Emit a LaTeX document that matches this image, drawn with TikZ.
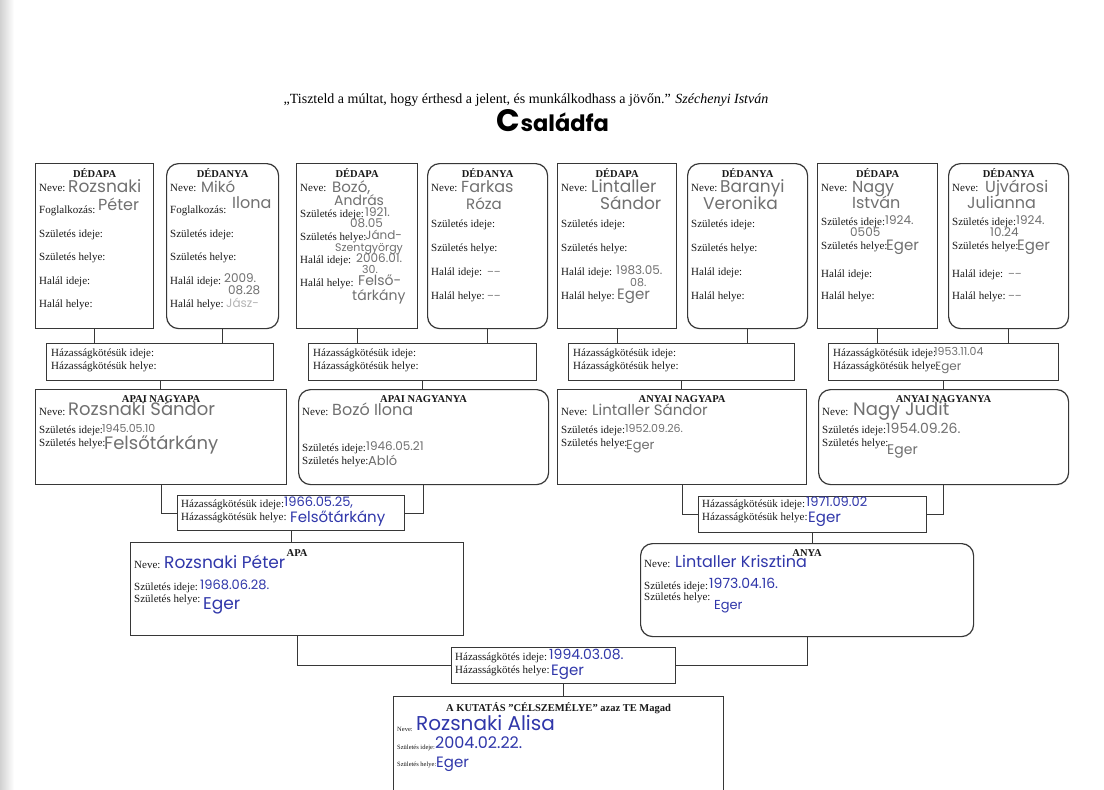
\documentclass[tikz,border=0pt]{standalone}
\usepackage{fontspec}
\setmainfont{Liberation Serif}
\newfontfamily\hwfamily{Poppins}
\newfontfamily\titlefamily{Poppins}
\definecolor{pencil}{RGB}{112,112,112}
\definecolor{faint}{RGB}{180,180,180}
\definecolor{ink}{RGB}{48,55,170}
\definecolor{frame}{RGB}{55,55,55}
\newcommand\lblfont{\fontsize{11}{11}\selectfont}
\newcommand\hdfont{\bfseries\fontsize{10.5}{11}\selectfont}
\tikzset{
  box/.style={draw=frame, line width=1.2pt, inner sep=0pt, anchor=north west},
  sq/.style={box},
  rd/.style={box, rounded corners=12pt},
  conn/.style={draw=frame, line width=1.2pt},
  lab/.style={font=\lblfont, anchor=west, inner sep=0pt, text=black!90, text height=0.7em, text depth=0.2em},
  tlab/.style={lab, font=\fontsize{6.5}{7}\selectfont},
  hd/.style={font=\hdfont, inner sep=0pt, text=black!90, text height=0.7em, text depth=0.1em},
  hw/.style={font=\hwfamily\fontsize{#1}{#1}\selectfont, anchor=west, inner sep=0pt,
             text=pencil, text height=0.7em, text depth=0.12em},
  hw/.default=16,
  hb/.style={hw=#1, text=ink},
  hb/.default=16,
}
\begin{document}
\begin{tikzpicture}[x=1pt,y=-1pt]
\useasboundingbox (0,0) rectangle (1104,790);
\fill[white] (0,0) rectangle (1104,790);
\clip (0,0) rectangle (1104,790);
\shade[left color=black!18, right color=white] (0,0) rectangle (14,790);

% quote and title
\node[font=\fontsize{14}{14}\selectfont, inner sep=0pt] (quote) at (526,100)
  {„Tiszteld a múltat, hogy érthesd a jelent, és munkálkodhass a jövőn.” \textit{Széchenyi István}};
\node[font=\titlefamily\bfseries\fontsize{22.5}{22.5}\selectfont, inner sep=0pt] (title) at (553,121)
  {{\fontsize{31}{31}\selectfont C}saládfa};

% great-grandparents
\node[sq, minimum width=118, minimum height=165] (g1) at (35,163) {};
\node[rd, minimum width=112, minimum height=165] (g2) at (166,163) {};
\node[sq, minimum width=121, minimum height=165] (g3) at (296,163) {};
\node[rd, minimum width=120, minimum height=165] (g4) at (427,163) {};
\node[sq, minimum width=119, minimum height=165] (g5) at (557,163) {};
\node[rd, minimum width=120, minimum height=165] (g6) at (687,163) {};
\node[sq, minimum width=120, minimum height=165] (g7) at (817,163) {};
\node[rd, minimum width=120, minimum height=165] (g8) at (948,163) {};

% first marriages
\node[sq, minimum width=227, minimum height=37] (m1) at (46,343) {};
\node[sq, minimum width=228, minimum height=37] (m2) at (308,343) {};
\node[sq, minimum width=226, minimum height=37] (m3) at (568,343) {};
\node[sq, minimum width=230, minimum height=37] (m4) at (828,343) {};

% grandparents
\node[sq, minimum width=251, minimum height=95] (p1) at (35,389) {};
\node[rd, minimum width=250, minimum height=95] (p2) at (298,389) {};
\node[sq, minimum width=249, minimum height=95] (p3) at (557,389) {};
\node[rd, minimum width=250, minimum height=95] (p4) at (818,389) {};

% parents' marriages and parents
\node[sq, minimum width=227, minimum height=35] (mp) at (177,495) {};
\node[sq, minimum width=228, minimum height=36] (mm) at (698,496) {};
\node[sq, minimum width=333, minimum height=93] (apa) at (130,542) {};
\node[rd, minimum width=333, minimum height=93] (anya) at (640,543) {};
\node[sq, minimum width=224, minimum height=36] (mf) at (451,647) {};
\node[sq, minimum width=330, minimum height=140] (me) at (393,696) {};

% connectors
\foreach \g/\m in {g1/m1,g2/m1,g3/m2,g4/m2,g5/m3,g6/m3,g7/m4,g8/m4}
  \draw[conn] (\g.south) -- (\g.south |- \m.north);
\foreach \m/\p in {m1/p1,m2/p2,m3/p3,m4/p4}
  \draw[conn] (\m.south) -- (\m.south |- \p.north);
\draw[conn] (p1.south) |- (mp.west);
\draw[conn] (p2.south) |- (mp.east);
\draw[conn] (p3.south) |- (mm.west);
\draw[conn] (p4.south) |- (mm.east);
\draw[conn] (mp.south) -- (mp.south |- apa.north);
\draw[conn] (mm.south) -- (mm.south |- anya.north);
\draw[conn] (apa.south) |- (mf.west);
\draw[conn] (anya.south) |- (mf.east);
\draw[conn] (mf.south) -- (mf.south |- me.north);

% headings top row
\foreach \g/\t in {g1/DÉDAPA,g2/DÉDANYA,g3/DÉDAPA,g4/DÉDANYA,g5/DÉDAPA,g6/DÉDANYA,g7/DÉDAPA,g8/DÉDANYA}
  \node[hd] at (\g.north |- 0,174) {\t};

% labels top row
\foreach \x in {39,170}{
  \node[lab] at (\x,189) {Neve:};
  \node[lab] at (\x,211) {Foglalkozás:};
  \node[lab] at (\x,235) {Születés ideje:};
  \node[lab] at (\x,258) {Születés helye:};
  \node[lab] at (\x,282) {Halál ideje:};
  \node[lab] at (\x,305) {Halál helye:};
}
\node[lab] at (300,189) {Neve:};
\node[lab] at (300,215) {Születés ideje:};
\node[lab] at (300,238) {Születés helye:};
\node[lab] at (300,261) {Halál ideje:};
\node[lab] at (300,284) {Halál helye:};
\foreach \x in {431,561,691}{
  \node[lab] at (\x,189) {Neve:};
  \node[lab] at (\x,225) {Születés ideje:};
  \node[lab] at (\x,249) {Születés helye:};
  \node[lab] at (\x,273) {Halál ideje:};
  \node[lab] at (\x,297) {Halál helye:};
}
\foreach \x in {821,952}{
  \node[lab] at (\x,189) {Neve:};
  \node[lab] at (\x,223) {Születés ideje:};
  \node[lab] at (\x,247) {Születés helye:};
  \node[lab] at (\x,275) {Halál ideje:};
  \node[lab] at (\x,297) {Halál helye:};
}

% handwriting top row
\node[hw=17] at (68,190) {Rozsnaki};
\node[hw=16] at (98,208) {Péter};
\node[hw=15] at (201,190) {Mikó};
\node[hw=16] at (232,206) {Ilona};
\node[hw=12] at (224,280) {2009.};
\node[hw=12] at (228,292) {08.28};
\node[hw=12, text=faint] at (226,305) {Jász-};
\node[hw=15] at (332,190) {Bozó,};
\node[hw=14] at (334,203) {András};
\node[hw=12] at (365,214) {1921.};
\node[hw=12] at (350,225) {08.05};
\node[hw=12] at (365,237) {Jánd-};
\node[hw=11] at (335,249) {Szentgyörgy};
\node[hw=12] at (356,260) {2006.01.};
\node[hw=11] at (362,271) {30.};
\node[hw=14] at (358,283) {Felső-};
\node[hw=14] at (352,298) {tárkány};
\node[hw=16] at (461,190) {Farkas};
\node[hw=15] at (466,207) {Róza};
\node[hw=10] at (487,273) {––};
\node[hw=10] at (487,297) {––};
\node[hw=17] at (591,190) {Lintaller};
\node[hw=17] at (600,207) {Sándor};
\node[hw=12] at (616,272) {1983.05.};
\node[hw=11] at (630,284) {08.};
\node[hw=15] at (617,297) {Eger};
\node[hw=17] at (720,190) {Baranyi};
\node[hw=17] at (703,207) {Veronika};
\node[hw=16] at (852,190) {Nagy};
\node[hw=16] at (852,206) {István};
\node[hw=12] at (885,222) {1924.};
\node[hw=12] at (850,234) {0505};
\node[hw=15] at (886,248) {Eger};
\node[hw=16] at (985,190) {Ujvárosi};
\node[hw=16] at (967,206) {Julianna};
\node[hw=12] at (1016,222) {1924.};
\node[hw=12] at (990,234) {10.24};
\node[hw=15] at (1017,248) {Eger};
\node[hw=10] at (1008,275) {––};
\node[hw=10] at (1008,297) {––};

% first marriage labels
\foreach \m in {m1,m2,m3,m4}{
  \node[lab] at ([xshift=5]\m.west |- 0,354) {Házasságkötésük ideje:};
  \node[lab] at ([xshift=5]\m.west |- 0,367) {Házasságkötésük helye:};
}
\node[hw=11] at (934,353) {1953.11.04};
\node[hw=12] at (935,368) {Eger};

% grandparents
\node[hd] at (p1.north |- 0,399) {APAI NAGYAPA};
\node[hd] at (p2.north |- 0,399) {APAI NAGYANYA};
\node[hd] at (p3.north |- 0,399) {ANYAI NAGYAPA};
\node[hd] at (p4.north |- 0,399) {ANYAI NAGYANYA};
\foreach \x in {39,561,822}{
  \node[lab] at (\x,413) {Neve:};
  \node[lab] at (\x,431) {Születés ideje:};
  \node[lab] at (\x,444) {Születés helye:};
}
\node[lab] at (302,413) {Neve:};
\node[lab] at (302,449) {Születés ideje:};
\node[lab] at (302,462) {Születés helye:};
\node[hw=18] at (68,413) {Rozsnaki Sándor};
\node[hw=11] at (102,430) {1945.05.10};
\node[hw=18] at (104,447) {Felsőtárkány};
\node[hw=16] at (332,413) {Bozó Ilona};
\node[hw=12] at (366,448) {1946.05.21};
\node[hw=13] at (368,463) {Abló};
\node[hw=15] at (592,413) {Lintaller Sándor};
\node[hw=11] at (625,430) {1952.09.26.};
\node[hw=13] at (626,447) {Eger};
\node[hw=18] at (853,413) {Nagy Judit};
\node[hw=14] at (886,431) {1954.09.26.};
\node[hw=14] at (887,452) {Eger};

% parents' marriages
\foreach \m in {mp,mm}{
  \node[lab] at ([xshift=4]\m.west |- 0,505) {Házasságkötésük ideje:};
  \node[lab] at ([xshift=4]\m.west |- 0,518) {Házasságkötésük helye:};
}
\node[hb=13] at (284,504) {1966.05.25,};
\node[hb=15] at (290,520) {Felsőtárkány};
\node[hb=13] at (806,504) {1971.09.02};
\node[hb=15] at (808,520) {Eger};

% parents
\node[hd] at (apa.north |- 0,553) {APA};
\node[hd] at (anya.north |- 0,553) {ANYA};
\node[lab] at (134,566) {Neve:};
\node[lab] at (134,588) {Születés ideje:};
\node[lab] at (134,600) {Születés helye:};
\node[hb=17] at (164,566) {Rozsnaki Péter};
\node[hb=13] at (200,587) {1968.06.28.};
\node[hb=17] at (203,607) {Eger};
\node[lab] at (644,565) {Neve:};
\node[lab] at (644,587) {Születés ideje:};
\node[lab] at (644,598) {Születés helye:};
\node[hb=16] at (675,565) {Lintaller Krisztina};
\node[hb=14] at (709,586) {1973.04.16.};
\node[hb=13] at (714,607) {Eger};

% final marriage
\node[lab] at ([xshift=4]mf.west |- 0,658) {Házasságkötés ideje:};
\node[lab] at ([xshift=4]mf.west |- 0,671) {Házasságkötés helye:};
\node[hb=14] at (549,657) {1994.03.08.};
\node[hb=15] at (551,673) {Eger};

% target person
\node[hd] at (me.north |- 0,708) {A KUTATÁS "CÉLSZEMÉLYE" azaz TE Magad};
\node[tlab] at (397,729) {Neve:};
\node[tlab] at (397,747) {Születés ideje:};
\node[tlab] at (397,764) {Születés helye:};
\node[hb=20] at (416,728) {Rozsnaki Alisa};
\node[hb=16] at (435,746) {2004.02.22.};
\node[hb=15] at (436,765) {Eger};
\end{tikzpicture}
\end{document}
